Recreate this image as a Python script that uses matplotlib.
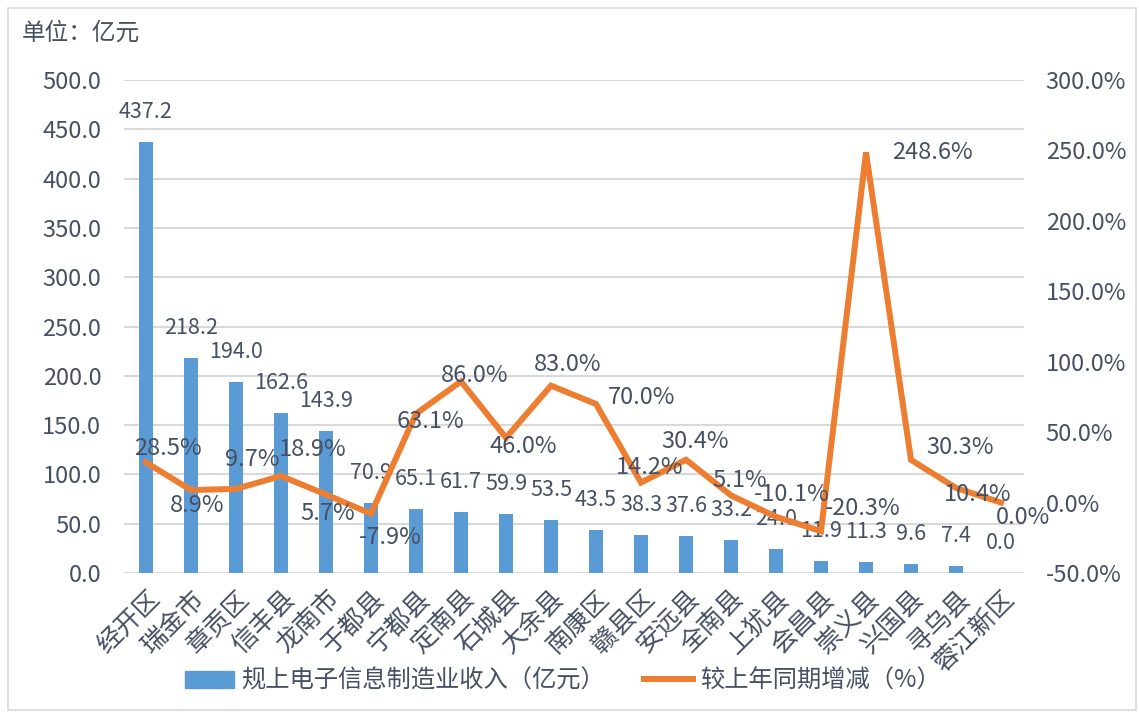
import matplotlib
matplotlib.use("Agg")
import matplotlib.pyplot as plt
from matplotlib.patches import Patch, Rectangle
from matplotlib.lines import Line2D

plt.rcParams['font.family'] = ['Noto Sans CJK SC', 'DejaVu Sans']

# data
regions = ['经开区', '瑞金市', '章贡区', '信丰县', '龙南市', '于都县', '宁都县', '定南县',
           '石城县', '大余县', '南康区', '赣县区', '安远县', '全南县', '上犹县', '会昌县',
           '崇义县', '兴国县', '寻乌县', '蓉江新区']
revenue = [437.2, 218.2, 194.0, 162.6, 143.9, 70.9, 65.1, 61.7, 59.9, 53.5,
           43.5, 38.3, 37.6, 33.2, 24.0, 11.9, 11.3, 9.6, 7.4, 0.0]
growth = [28.5, 8.9, 9.7, 18.9, 5.7, -7.9, 63.1, 86.0, 46.0, 83.0,
          70.0, 14.2, 30.4, 5.1, -10.1, -20.3, 248.6, 30.3, 10.4, 0.0]

bar_name = '规上电子信息制造业收入（亿元）'
line_name = '较上年同期增减（%）'

# label nudges for the % labels, in pixels (dx right, dy down)
pct_nudge = [(22, -14), (6, 15), (16, -29), (32, -26), (2, 19), (19, 24), (14, 8),
             (14, -6), (17, 9), (17, -21), (46, -6), (9, -15), (9, -18), (9, -15),
             (16, -22), (42, -23), (66, 0), (49, -12), (22, 7), (22, 15)]

BLUE = '#5B9BD5'
ORANGE = '#ED7D31'
TXT = '#465063'
GRID = '#D9D9D9'

fig = plt.figure(figsize=(11.39, 7.18), dpi=100)
ax = fig.add_axes([123.5 / 1139, 1 - 573 / 718, 900 / 1139, 493 / 718])
ax2 = ax.twinx()

x = list(range(len(regions)))
ax.bar(x, revenue, width=0.32, color=BLUE, zorder=2)
ax.set_xlim(-0.5, len(regions) - 0.5)
ax.set_ylim(0, 500)
ax.set_yticks([i * 50 for i in range(11)])
ax.set_yticklabels([f'{i * 50:.1f}' for i in range(11)])
ax.grid(axis='y', color=GRID, lw=1.5, zorder=0)
ax.set_axisbelow(True)

for xi, v in zip(x, revenue):
    ax.annotate(f'{v:.1f}', (xi, v), xytext=(0, 30 * 0.72), textcoords='offset points',
                ha='center', va='center', fontsize=15.5, color=TXT)

ax2.plot(x, growth, color=ORANGE, lw=4.3, solid_joinstyle='miter', zorder=3)
ax2.set_ylim(-50, 300)
ax2.set_yticks([i * 50 - 50 for i in range(8)])
ax2.set_yticklabels([f'{i * 50 - 50:.1f}%' for i in range(8)])

for xi, v, (dx, dy) in zip(x, growth, pct_nudge):
    ax2.annotate(f'{v:.1f}%', (xi, v), xytext=(dx * 0.72, -dy * 0.72), textcoords='offset points',
                 ha='center', va='center', fontsize=17, color=TXT)

for a in (ax, ax2):
    for s in a.spines.values():
        s.set_visible(False)
    a.tick_params(length=0, labelsize=17, labelcolor=TXT)
ax.tick_params(axis='y', pad=16)
ax2.tick_params(axis='y', pad=16)

ax.set_xticks(x)
ax.set_xticklabels([])
for xi, name in zip(x, regions):
    ax.annotate(name, (xi, 0), xytext=(10 * 0.72, -22 * 0.72), textcoords='offset points',
                rotation=45, rotation_mode='anchor', ha='right', va='center',
                fontsize=18.5, color=TXT)

fig.text(22 / 1139, 1 - 33 / 718, '单位：亿元', fontsize=17, color=TXT, va='center')

handles = [Patch(color=BLUE), Line2D([], [], color=ORANGE, lw=4.3)]
fig.legend(handles, [bar_name, line_name], loc='center', bbox_to_anchor=(563 / 1139, 1 - 681 / 718),
           ncol=2, frameon=False, fontsize=17.5, labelcolor=TXT, handlelength=2.0,
           handleheight=0.7, columnspacing=1.6, handletextpad=0.3)

fig.patches.append(Rectangle((8 / 1139, 8 / 718), 1128 / 1139, 702 / 718,
                             transform=fig.transFigure, fill=False, ec=GRID, lw=1.2))

fig.savefig('out.png', dpi=100)
